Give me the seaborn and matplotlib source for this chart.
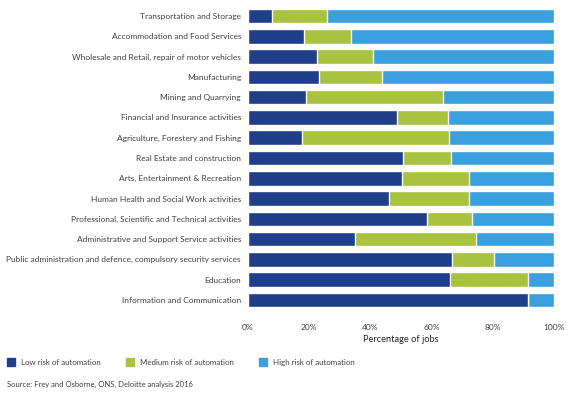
import pandas as pd
import numpy as np
import seaborn as sns
import matplotlib as mpl
import matplotlib.pyplot as plt
from matplotlib.patches import Patch

mpl.use('Agg')

sectors = [
    "Transportation and Storage",
    "Accommodation and Food Services",
    "Wholesale and Retail, repair of motor vehicles",
    "Manufacturing",
    "Mining and Quarrying",
    "Financial and Insurance activities",
    "Agriculture, Forestery and Fishing",
    "Real Estate and construction",
    "Arts, Entertainment & Recreation",
    "Human Health and Social Work activities",
    "Professional, Scientific and Technical activities",
    "Administrative and Support Service activities",
    "Public administration and defence, compulsory security services",
    "Education",
    "Information and Communication",
]
low_risk = [7.7, 18.3, 22.5, 23.2, 19.0, 48.7, 17.8, 50.7, 50.2, 46.1, 58.4, 35.1, 66.6, 66.0, 91.5]
medium_risk = [18.1, 15.4, 18.3, 20.7, 44.7, 16.7, 47.9, 15.6, 22.0, 26.3, 14.8, 39.3, 13.8, 25.6, 0.0]
high_risk = [round(100 - l - m, 1) for l, m in zip(low_risk, medium_risk)]

c_low = "#1f3f8b"
c_med = "#a9c23f"
c_high = "#3a9fdd"

df = pd.DataFrame({"sector": sectors, "low": low_risk, "medium": medium_risk, "high": high_risk})
df["low_med"] = df["low"] + df["medium"]
df["total"] = df["low_med"] + df["high"]

sns.set_style("white")
plt.rcParams['font.family'] = ['Lato', 'DejaVu Sans']
txt = "#404040"
fs = 6.05

fig = plt.figure(figsize=(5.74, 3.96), dpi=100)
ax = fig.add_axes([0.432, 0.217, 0.533, 0.768])

# stacked bars: draw cumulative totals back to front
w = 0.72
sns.barplot(data=df, x="total", y="sector", orient="h", color=c_high, width=w, saturation=1, ax=ax)
sns.barplot(data=df, x="low_med", y="sector", orient="h", color=c_med, width=w, saturation=1, ax=ax)
sns.barplot(data=df, x="low", y="sector", orient="h", color=c_low, width=w, saturation=1, ax=ax)

ax.set_xlim(0, 100)
ax.set_ylim(len(sectors) - 0.5, -0.5)
ax.set_xticks([0, 20, 40, 60, 80, 100])
ax.set_xticklabels(["0%", "20%", "40%", "60%", "80%", "100%"])
ax.set_ylabel("")
ax.set_xlabel("Percentage of jobs", fontsize=fs + 0.6, color="#222222", labelpad=3)
ax.tick_params(axis="both", length=0, labelsize=fs, labelcolor=txt)
ax.tick_params(axis="x", pad=10)
ax.tick_params(axis="y", pad=5)
sns.despine(ax=ax, left=True, bottom=True)

handles = [Patch(color=c_low, label="Low risk of automation"),
           Patch(color=c_med, label="Medium risk of automation"),
           Patch(color=c_high, label="High risk of automation")]
leg = fig.legend(handles=handles, loc="center left", bbox_to_anchor=(0.0, 0.086), ncol=3,
                 frameon=False, fontsize=5.7, handlelength=1.05, handleheight=1.3,
                 handletextpad=0.65, columnspacing=3.25, labelcolor=txt)

fig.text(0.012, 0.03, "Source: Frey and Osborne, ONS, Deloitte analysis 2016", fontsize=5.5, color=txt,
         va="center", ha="left")

fig.savefig("out.png", dpi=100)
